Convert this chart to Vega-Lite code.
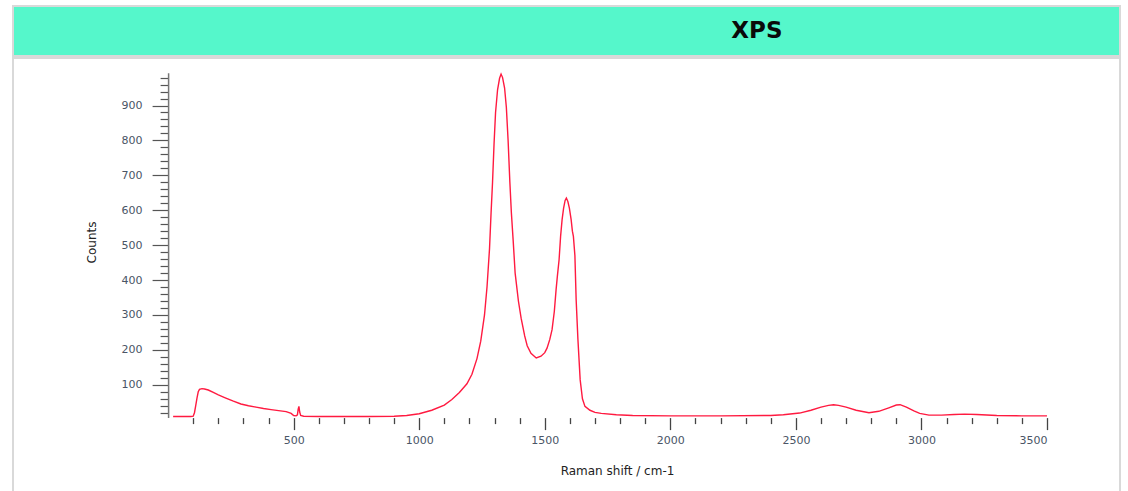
{
  "$schema": "https://vega.github.io/schema/vega-lite/v6.json",
  "background": "white",
  "padding": {"left": 12, "top": 5, "right": 8, "bottom": 0},
  "spacing": 0,
  "config": {"concat": {"spacing": 0}},
  "vconcat": [
    {
      "width": 1107,
      "height": 50,
      "view": {"fill": "#55F7CB", "stroke": "#d9d9d9", "strokeWidth": 2},
      "data": {"values": [{"label": "XPS"}]},
      "mark": {"type": "text", "font": "DejaVu Sans", "fontWeight": "bold", "fontSize": 23, "color": "#0a0a0a", "align": "center", "baseline": "middle"},
      "encoding": {
        "text": {"field": "label"},
        "x": {"datum": 0.672, "type": "quantitative", "scale": {"domain": [0, 1]}, "axis": null}
      }
    },
    {
      "width": 1107,
      "height": 440,
      "view": {"fill": "white", "stroke": "#d9d9d9", "strokeWidth": 2},
      "data": {"values": [
        {"shift": 20, "counts": 9}, {"shift": 60, "counts": 9}, {"shift": 90, "counts": 9}, {"shift": 100, "counts": 10},
        {"shift": 105, "counts": 20}, {"shift": 110, "counts": 40}, {"shift": 115, "counts": 62}, {"shift": 120, "counts": 80},
        {"shift": 125, "counts": 87}, {"shift": 135, "counts": 89}, {"shift": 145, "counts": 88}, {"shift": 160, "counts": 85},
        {"shift": 180, "counts": 78}, {"shift": 200, "counts": 71}, {"shift": 230, "counts": 62}, {"shift": 260, "counts": 53},
        {"shift": 290, "counts": 45}, {"shift": 320, "counts": 40}, {"shift": 350, "counts": 36}, {"shift": 380, "counts": 32},
        {"shift": 410, "counts": 29}, {"shift": 440, "counts": 26}, {"shift": 470, "counts": 23}, {"shift": 490, "counts": 18},
        {"shift": 500, "counts": 12}, {"shift": 510, "counts": 11}, {"shift": 515, "counts": 14}, {"shift": 518, "counts": 30},
        {"shift": 521, "counts": 38}, {"shift": 524, "counts": 22}, {"shift": 528, "counts": 12}, {"shift": 540, "counts": 10},
        {"shift": 600, "counts": 9}, {"shift": 700, "counts": 9}, {"shift": 800, "counts": 9}, {"shift": 900, "counts": 10},
        {"shift": 950, "counts": 12}, {"shift": 1000, "counts": 17}, {"shift": 1050, "counts": 27}, {"shift": 1100, "counts": 42},
        {"shift": 1130, "counts": 58}, {"shift": 1160, "counts": 78}, {"shift": 1190, "counts": 103}, {"shift": 1210, "counts": 130},
        {"shift": 1230, "counts": 175}, {"shift": 1245, "counts": 225}, {"shift": 1260, "counts": 300}, {"shift": 1270, "counts": 380},
        {"shift": 1280, "counts": 490}, {"shift": 1286, "counts": 590}, {"shift": 1292, "counts": 680}, {"shift": 1298, "counts": 790},
        {"shift": 1304, "counts": 880}, {"shift": 1312, "counts": 945}, {"shift": 1320, "counts": 978}, {"shift": 1326, "counts": 990},
        {"shift": 1332, "counts": 980}, {"shift": 1340, "counts": 950}, {"shift": 1347, "counts": 895}, {"shift": 1354, "counts": 800},
        {"shift": 1361, "counts": 680}, {"shift": 1367, "counts": 593}, {"shift": 1374, "counts": 515}, {"shift": 1382, "counts": 420},
        {"shift": 1395, "counts": 340}, {"shift": 1406, "counts": 290}, {"shift": 1420, "counts": 240}, {"shift": 1430, "counts": 212},
        {"shift": 1445, "counts": 190}, {"shift": 1466, "counts": 177}, {"shift": 1485, "counts": 182}, {"shift": 1500, "counts": 192},
        {"shift": 1509, "counts": 205}, {"shift": 1520, "counts": 230}, {"shift": 1529, "counts": 258}, {"shift": 1538, "counts": 310},
        {"shift": 1545, "counts": 372}, {"shift": 1550, "counts": 410}, {"shift": 1557, "counts": 458}, {"shift": 1563, "counts": 525},
        {"shift": 1569, "counts": 573}, {"shift": 1575, "counts": 606}, {"shift": 1581, "counts": 628}, {"shift": 1586, "counts": 635},
        {"shift": 1592, "counts": 625}, {"shift": 1598, "counts": 606}, {"shift": 1605, "counts": 573}, {"shift": 1610, "counts": 540},
        {"shift": 1614, "counts": 525}, {"shift": 1620, "counts": 470}, {"shift": 1625, "counts": 343}, {"shift": 1632, "counts": 230},
        {"shift": 1641, "counts": 114}, {"shift": 1650, "counts": 60}, {"shift": 1660, "counts": 38}, {"shift": 1680, "counts": 27},
        {"shift": 1700, "counts": 21}, {"shift": 1725, "counts": 18}, {"shift": 1785, "counts": 14}, {"shift": 1850, "counts": 12},
        {"shift": 2000, "counts": 11}, {"shift": 2200, "counts": 11}, {"shift": 2400, "counts": 12}, {"shift": 2450, "counts": 14},
        {"shift": 2515, "counts": 19}, {"shift": 2560, "counts": 27}, {"shift": 2600, "counts": 36}, {"shift": 2630, "counts": 41},
        {"shift": 2650, "counts": 43}, {"shift": 2670, "counts": 41}, {"shift": 2700, "counts": 36}, {"shift": 2740, "counts": 27},
        {"shift": 2791, "counts": 20}, {"shift": 2830, "counts": 24}, {"shift": 2870, "counts": 34}, {"shift": 2900, "counts": 42},
        {"shift": 2915, "counts": 43}, {"shift": 2940, "counts": 36}, {"shift": 2970, "counts": 25}, {"shift": 2993, "counts": 18},
        {"shift": 3030, "counts": 13}, {"shift": 3080, "counts": 13}, {"shift": 3130, "counts": 15}, {"shift": 3172, "counts": 16},
        {"shift": 3220, "counts": 15}, {"shift": 3300, "counts": 12}, {"shift": 3400, "counts": 11}, {"shift": 3500, "counts": 11}
      ]},
      "mark": {"type": "line", "color": "#ff1a40", "strokeWidth": 1.4},
      "encoding": {
        "x": {
          "field": "shift", "type": "quantitative",
          "scale": {"domain": [0, 3500], "range": [155.1, 1034], "nice": false, "zero": false},
          "axis": {
            "title": "Raman shift / cm-1",
            "titleFont": "DejaVu Sans", "titleFontSize": 12, "titleFontWeight": "normal", "titleColor": "#222222",
            "titleX": 604, "titleY": 53, "titleBaseline": "middle",
            "values": [100,200,300,400,500,600,700,800,900,1000,1100,1200,1300,1400,1500,1600,1700,1800,1900,2000,2100,2200,2300,2400,2500,2600,2700,2800,2900,3000,3100,3200,3300,3400,3500],
            "format": "d",
            "labelExpr": "datum.value % 500 === 0 ? datum.label : ''",
            "tickSize": {"condition": {"test": "datum.value % 500 === 0", "value": 12}, "value": 6},
            "domain": false, "grid": false, "offset": -80.4,
            "labelFont": "DejaVu Sans", "labelFontSize": 11, "labelColor": "#4a5566", "labelPadding": 5,
            "tickColor": "#444444", "tickWidth": 1.3
          }
        },
        "y": {
          "field": "counts", "type": "quantitative",
          "scale": {"domain": [6, 994], "range": [359.6, 14.7], "nice": false, "zero": false},
          "axis": {
            "title": "Counts",
            "titleFont": "DejaVu Sans", "titleFontSize": 12, "titleFontWeight": "normal", "titleColor": "#222222",
            "titleX": -77, "titleY": 184, "titleBaseline": "middle",
            "values": [20,40,60,80,100,120,140,160,180,200,220,240,260,280,300,320,340,360,380,400,420,440,460,480,500,520,540,560,580,600,620,640,660,680,700,720,740,760,780,800,820,840,860,880,900,920,940,960,980],
            "format": "d",
            "labelExpr": "datum.value % 100 === 0 ? datum.label : ''",
            "tickSize": {"condition": {"test": "datum.value % 100 === 0", "value": 16}, "value": 8},
            "domainColor": "#777777", "domainWidth": 1.5,
            "offset": -155.1, "grid": false,
            "labelFont": "DejaVu Sans", "labelFontSize": 11, "labelColor": "#4a5566", "labelPadding": 10,
            "tickColor": "#555555", "tickWidth": 1.2
          }
        }
      }
    }
  ]
}
